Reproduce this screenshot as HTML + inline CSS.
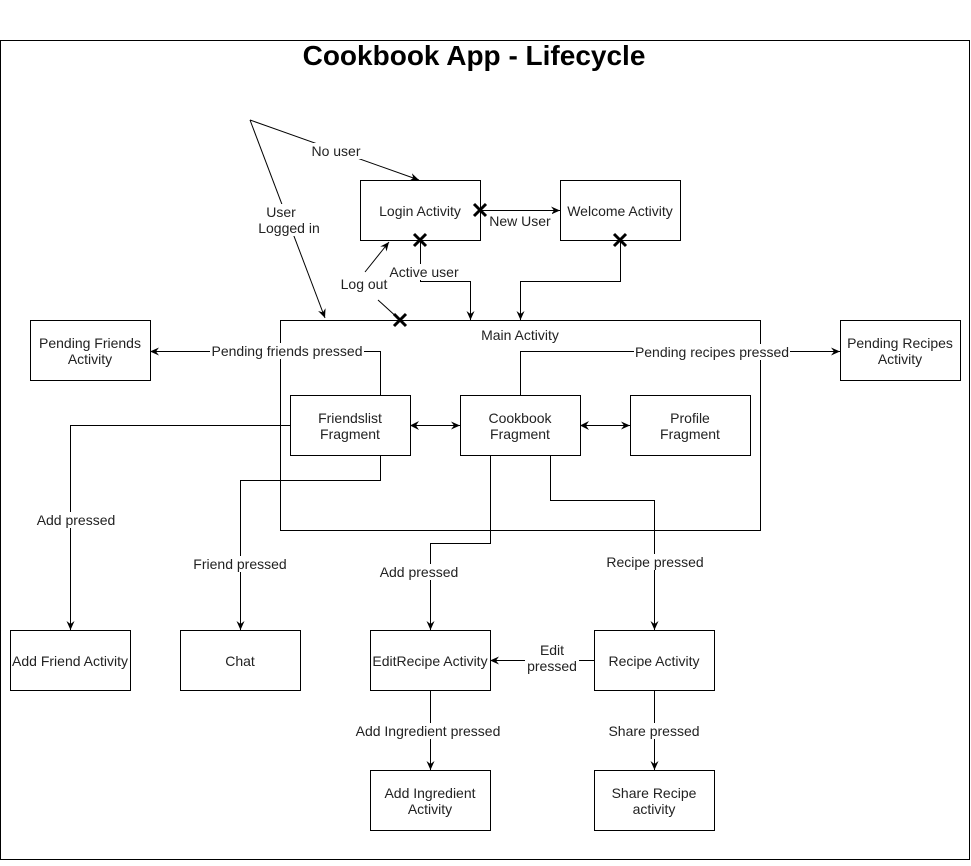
<!DOCTYPE html>
<html><head><meta charset="utf-8"><style>
html,body{margin:0;padding:0;background:#fff}
svg text{font-family:"Liberation Sans",Arial,sans-serif;font-size:14px;fill:#222}
</style></head><body>
<svg width="971" height="861" viewBox="0 0 971 861" xmlns="http://www.w3.org/2000/svg">
<defs><marker id="a" markerWidth="10" markerHeight="10" refX="9" refY="5" orient="auto" markerUnits="userSpaceOnUse"><path d="M0,1 L9,5 L0,9 L3,5 Z" fill="#000"/></marker></defs>
<rect x="0.5" y="40.5" width="969" height="819" fill="#fff" stroke="#000"/>
<text x="474" y="65" text-anchor="middle" style="font-size:28px;font-weight:bold;fill:#000">Cookbook App - Lifecycle</text>
<g fill="#fff" stroke="#000" stroke-width="1">
<rect x="360.5" y="180.5" width="120" height="60"/>
<rect x="560.5" y="180.5" width="120" height="60"/>
<rect x="280.5" y="320.5" width="480" height="210"/>
<rect x="30.5" y="320.5" width="120" height="60"/>
<rect x="840.5" y="320.5" width="120" height="60"/>
<rect x="290.5" y="395.5" width="120" height="60"/>
<rect x="460.5" y="395.5" width="120" height="60"/>
<rect x="630.5" y="395.5" width="120" height="60"/>
<rect x="10.5" y="630.5" width="120" height="60"/>
<rect x="180.5" y="630.5" width="120" height="60"/>
<rect x="370.5" y="630.5" width="120" height="60"/>
<rect x="594.5" y="630.5" width="120" height="60"/>
<rect x="370.5" y="770.5" width="120" height="60"/>
<rect x="594.5" y="770.5" width="120" height="60"/>
</g>
<g fill="none" stroke="#000" stroke-width="1">
<path d="M250,120 L419,180" marker-end="url(#a)"/>
<path d="M250,120 L325,318" marker-end="url(#a)"/>
<path d="M480,210.5 L560,210.5" marker-end="url(#a)"/>
<path d="M420.5,240 V281.5 H470.5 V320" marker-end="url(#a)"/>
<path d="M620.5,240 V281.5 H520.5 V320" marker-end="url(#a)"/>
<path d="M400,320 L378,300"/>
<path d="M365,272 L389,242" marker-end="url(#a)"/>
<path d="M380.5,395 V351.5 H150" marker-end="url(#a)"/>
<path d="M520.5,395 V351.5 H840" marker-end="url(#a)"/>
<path d="M412,425.5 H460" marker-end="url(#a)"/>
<path d="M582,425.5 H630" marker-end="url(#a)"/>
<path d="M290,425.5 H70.5 V630" marker-end="url(#a)"/>
<path d="M380.5,455 V480.5 H240.5 V630" marker-end="url(#a)"/>
<path d="M490.5,455 V543.5 H430.5 V630" marker-end="url(#a)"/>
<path d="M550.5,455 V500.5 H654.5 V630" marker-end="url(#a)"/>
<path d="M594,660.5 H490" marker-end="url(#a)"/>
<path d="M430.5,690 V770" marker-end="url(#a)"/>
<path d="M654.5,690 V770" marker-end="url(#a)"/>
</g>
<g fill="#000">
<path d="M410,425.5 L419,421 L416,425.5 L419,430 Z"/>
<path d="M580,425.5 L589,421 L586,425.5 L589,430 Z"/>
</g>
<g stroke="#000" stroke-width="3">
<path d="M474,204 L486,216 M486,204 L474,216"/>
<path d="M414,234 L426,246 M426,234 L414,246"/>
<path d="M614,234 L626,246 M626,234 L614,246"/>
<path d="M394,314 L406,326 M406,314 L394,326"/>
</g>
<g fill="#fff">
<rect x="310" y="143" width="52" height="16"/>
<rect x="256" y="204" width="64" height="32"/>
<rect x="488" y="213" width="64" height="16"/>
<rect x="388" y="264" width="72" height="16"/>
<rect x="210" y="343" width="154" height="16"/>
<rect x="634" y="344" width="156" height="16"/>
<rect x="35" y="512" width="82" height="16"/>
<rect x="192" y="556" width="96" height="16"/>
<rect x="378" y="564" width="82" height="16"/>
<rect x="605" y="554" width="100" height="16"/>
<rect x="525" y="642" width="54" height="32"/>
<rect x="355" y="723" width="146" height="16"/>
<rect x="607" y="723" width="94" height="16"/>
</g>
<g text-anchor="middle">
<text x="336" y="156">No user</text>
<text x="281" y="217">User</text>
<text x="289" y="233">Logged in</text>
<text x="420" y="216">Login Activity</text>
<text x="620" y="216">Welcome Activity</text>
<text x="520" y="226">New User</text>
<text x="424" y="277">Active user</text>
<text x="364" y="289">Log out</text>
<text x="520" y="340">Main Activity</text>
<text x="90" y="348">Pending Friends</text>
<text x="90" y="364">Activity</text>
<text x="900" y="348">Pending Recipes</text>
<text x="900" y="364">Activity</text>
<text x="287" y="356">Pending friends pressed</text>
<text x="712" y="357">Pending recipes pressed</text>
<text x="350" y="423">Friendslist</text>
<text x="350" y="439">Fragment</text>
<text x="520" y="423">Cookbook</text>
<text x="520" y="439">Fragment</text>
<text x="690" y="423">Profile</text>
<text x="690" y="439">Fragment</text>
<text x="76" y="525">Add pressed</text>
<text x="240" y="569">Friend pressed</text>
<text x="419" y="577">Add pressed</text>
<text x="655" y="567">Recipe pressed</text>
<text x="70" y="666">Add Friend Activity</text>
<text x="240" y="666">Chat</text>
<text x="430" y="666">EditRecipe Activity</text>
<text x="654" y="666">Recipe Activity</text>
<text x="552" y="655">Edit</text>
<text x="552" y="671">pressed</text>
<text x="428" y="736">Add Ingredient pressed</text>
<text x="654" y="736">Share pressed</text>
<text x="430" y="798">Add Ingredient</text>
<text x="430" y="814">Activity</text>
<text x="654" y="798">Share Recipe</text>
<text x="654" y="814">activity</text>
</g>
</svg>
</body></html>
